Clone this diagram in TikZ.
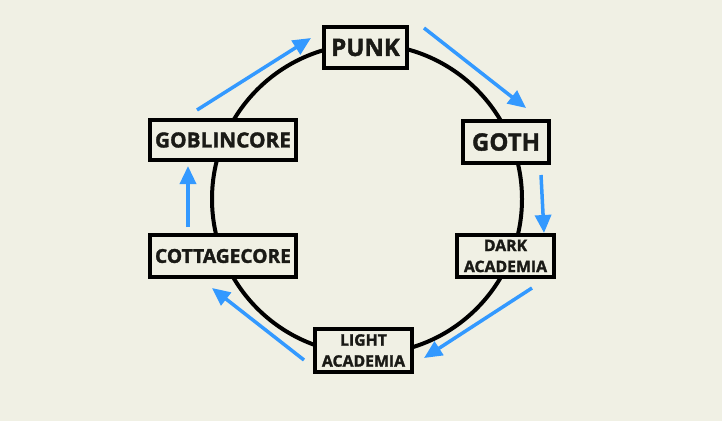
\documentclass[tikz,border=0pt]{standalone}
\usepackage{fontspec}
\setmainfont{Open Sans}[BoldFeatures={FakeBold=1.6}]
\usepackage{xcolor}
\usetikzlibrary{arrows.meta}
\definecolor{paper}{RGB}{240,240,228}
\definecolor{flowblue}{RGB}{51,153,255}
\definecolor{ink}{RGB}{26,26,22}

\begin{document}
\begin{tikzpicture}[x=1pt, y=-1pt,
    box/.style={draw=black, line width=4pt, fill=paper, text=ink, inner sep=0pt,
        align=center, font=\bfseries},
    flow/.style={draw=flowblue, line width=3.5pt, -{Triangle[length=18pt,width=16pt]}}]
        \fill[paper] (0,0) rectangle (722,421);

        % Ring
        \draw[line width=4pt] (367,199) circle[radius=155];

        % Aesthetics
        \node[box, minimum width=83pt, minimum height=41pt, font=\bfseries\fontsize{24}{26}\selectfont]
            (punk) at (365.5,47.5) {PUNK};
        \node[box, minimum width=86pt, minimum height=42pt, font=\bfseries\fontsize{24}{26}\selectfont]
            (goth) at (506,142) {GOTH};
        \node[box, minimum width=97pt, minimum height=42pt, font=\bfseries\fontsize{15.8}{21}\selectfont]
            (dark) at (505.5,256) {DARK\\ACADEMIA};
        \node[box, minimum width=97pt, minimum height=43pt, font=\bfseries\fontsize{15.8}{21}\selectfont]
            (light) at (363.5,350.5) {LIGHT\\ACADEMIA};
        \node[box, minimum width=146pt, minimum height=42pt, font=\bfseries\fontsize{19.2}{22}\selectfont]
            (cottage) at (223,256) {COTTAGECORE};
        \node[box, minimum width=146pt, minimum height=40pt, font=\bfseries\fontsize{20.8}{22}\selectfont]
            (goblin) at (223,140) {GOBLINCORE};

        % Flow around the ring
        \coordinate (goblin out) at (197,110);
        \coordinate (punk in) at (311,38);
        \coordinate (punk out) at (424,28);
        \coordinate (goth in) at (526,108);
        \coordinate (goth out) at (541,175);
        \coordinate (dark in) at (544,233);
        \coordinate (dark out) at (532,288);
        \coordinate (light in) at (424,358);
        \coordinate (light out) at (304,360);
        \coordinate (cottage in) at (212,288);
        \coordinate (cottage out) at (188,227);
        \coordinate (goblin in) at (188,166);

        \draw[flow] (goblin out) -- (punk in);
        \draw[flow] (punk out) -- (goth in);
        \draw[flow] (goth out) -- (dark in);
        \draw[flow] (dark out) -- (light in);
        \draw[flow] (light out) -- (cottage in);
        \draw[flow] (cottage out) -- (goblin in);
    \end{tikzpicture}
\end{document}
